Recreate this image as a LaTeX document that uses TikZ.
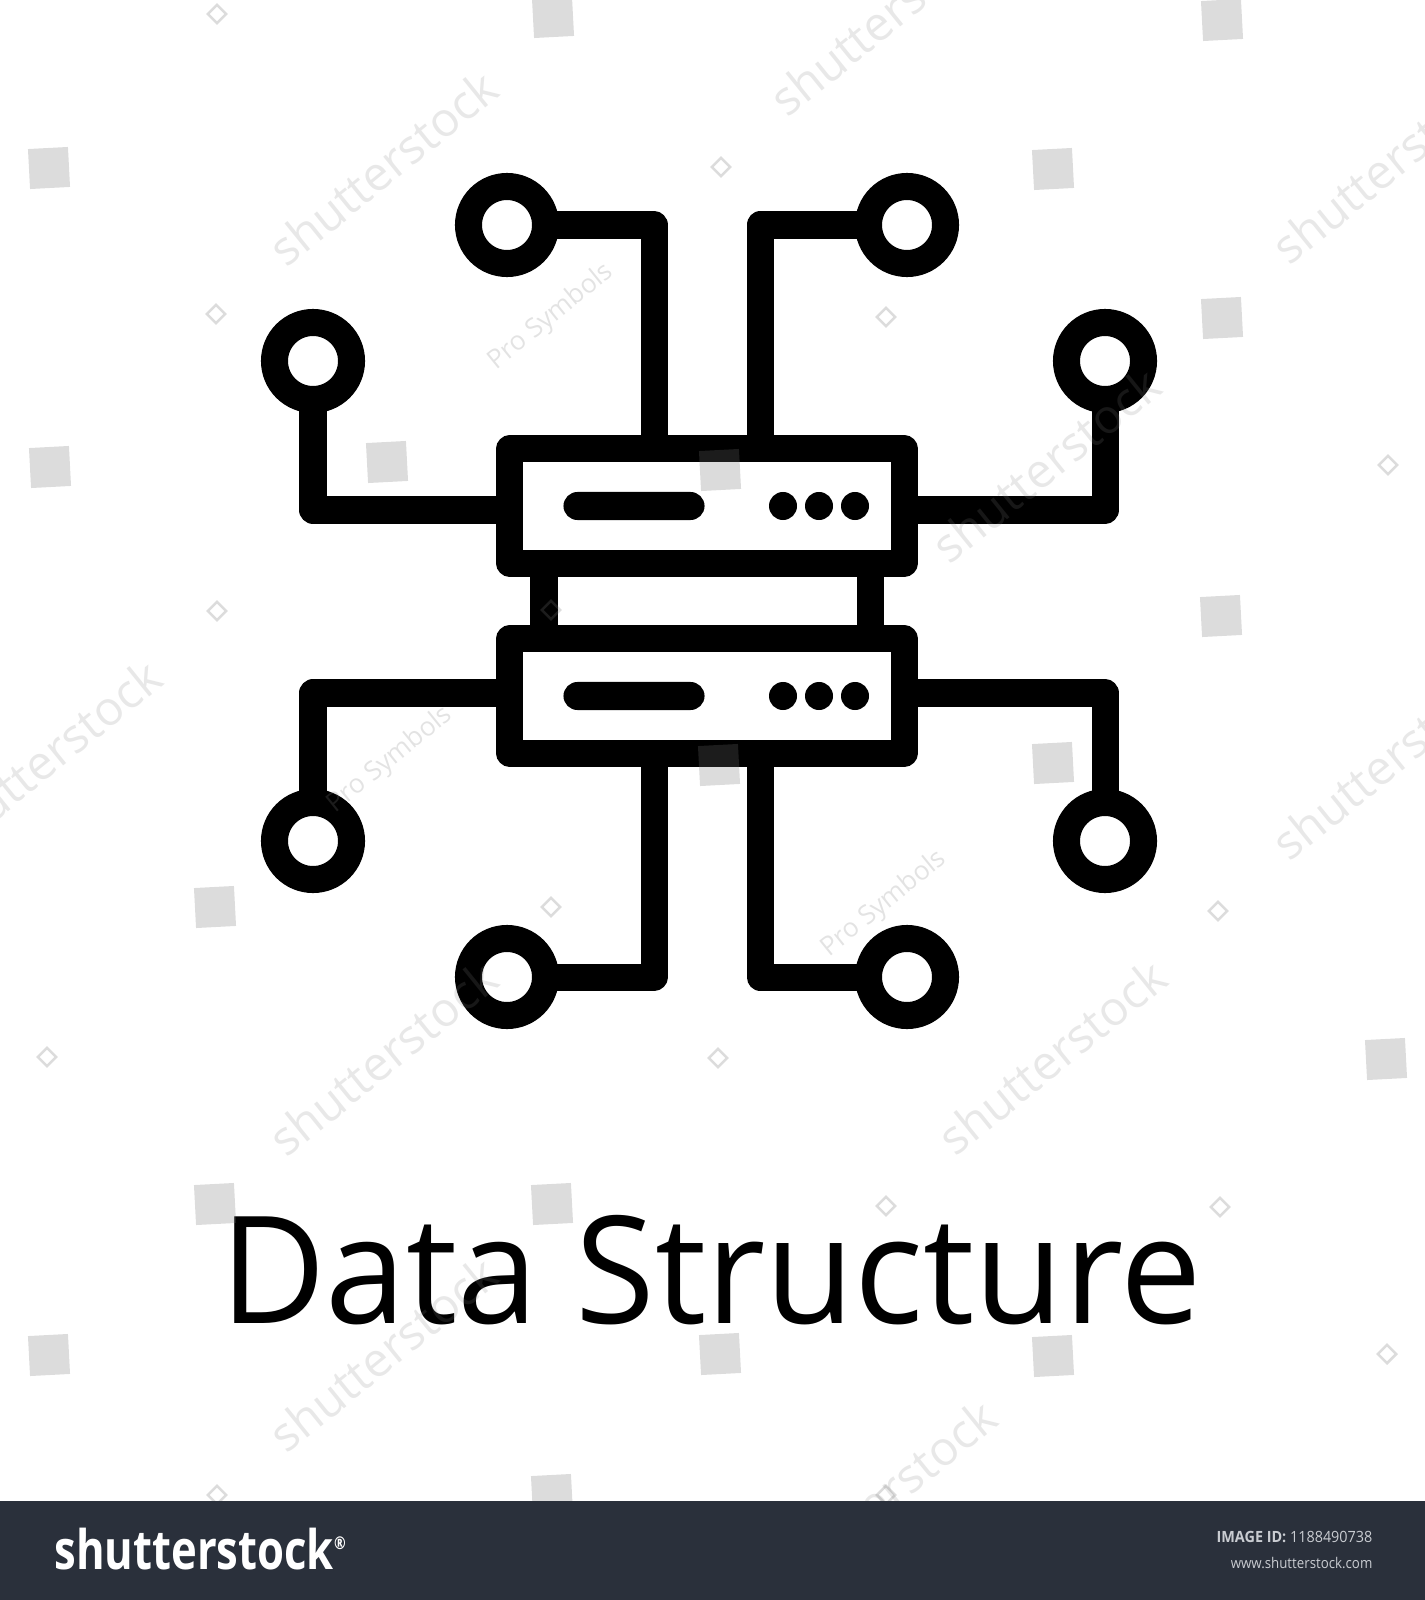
\documentclass[tikz,border=0pt]{standalone}
\usepackage{fontspec}
\setmainfont{Open Sans}
\definecolor{footbg}{HTML}{2A303B}
\definecolor{footgray}{HTML}{C9CCD1}
\tikzset{
	ring/.style={shape=circle, draw, fill=white, line width=0.27cm, minimum size=0.77cm, inner sep=0pt, outer sep=0pt},
	rack/.style={shape=rectangle, draw, fill=white, line width=0.27cm, line join=round, minimum width=3.94cm, minimum height=1.14cm, inner sep=0pt, outer sep=0pt},
	wire/.style={line width=0.27cm, line join=round},
	bar/.style={shape=rectangle, fill=black, rounded corners=0.14cm, minimum width=1.41cm, minimum height=0.28cm, inner sep=0pt},
	led/.style={shape=circle, fill=black, minimum size=0.28cm, inner sep=0pt},
	markbox/.style={shape=rectangle, fill=black!55, opacity=0.25, rotate=3, minimum size=0.4cm, inner sep=0pt},
	markswirl/.style={shape=rectangle, draw=black!55, opacity=0.25, line width=0.025cm, rotate=45, minimum size=0.13cm, inner sep=0pt},
	stocktext/.style={text=black!50, opacity=0.18, rotate=39, font=\fontsize{13.5}{13.5}\selectfont},
	protext/.style={text=black!50, opacity=0.22, rotate=39, font=\fontsize{7.5}{7.5}\selectfont}
}
\begin{document}
\begin{tikzpicture}[x=0.01cm, y=-0.01cm]
	\useasboundingbox (0, 0) rectangle (1425, 1600);
	% Taps and posts:
	\coordinate (tapa) at (654, 449);
	\coordinate (tapb) at (760, 449);
	\coordinate (tapc) at (654, 752);
	\coordinate (tapd) at (760, 752);
	\coordinate (posta) at (544, 563);
	\coordinate (postb) at (870, 563);
	\coordinate (postc) at (544, 639);
	\coordinate (postd) at (870, 639);
	\coordinate (sidea) at (510, 510);
	\coordinate (sideb) at (904, 510);
	\coordinate (sidec) at (510, 693);
	\coordinate (sided) at (904, 693);
	% Rings:
	\node[ring] (ringa) at (313, 361){};
	\node[ring] (ringb) at (507, 225){};
	\node[ring] (ringc) at (907, 225){};
	\node[ring] (ringd) at (1105, 361){};
	\node[ring] (ringe) at (313, 841){};
	\node[ring] (ringf) at (507, 977){};
	\node[ring] (ringg) at (907, 977){};
	\node[ring] (ringh) at (1105, 841){};
	% Wires:
	\draw[wire] (ringa.south) |- (sidea);
	\draw[wire] (ringb.east) -| (tapa);
	\draw[wire] (ringc.west) -| (tapb);
	\draw[wire] (ringd.south) |- (sideb);
	\draw[wire] (ringe.north) |- (sidec);
	\draw[wire] (ringf.east) -| (tapc);
	\draw[wire] (ringg.west) -| (tapd);
	\draw[wire] (ringh.north) |- (sided);
	\draw[wire] (posta) -- (postc);
	\draw[wire] (postb) -- (postd);
	% Racks:
	\node[rack] (racka) at (707, 506){};
	\node[rack] (rackb) at (707, 696){};
	\node[bar] (bara) at (634, 506){};
	\node[bar] (barb) at (634, 696){};
	\foreach \x/\n in {783/a, 819/b, 855/c}{
		\node[led] (leda\n) at (\x, 506){};
		\node[led] (ledb\n) at (\x, 696){};
	}
	% Title:
	\node[anchor=base, xscale=0.97, font=\fontsize{42.5}{42.5}\selectfont] (title) at (711, 1323){Data Structure};
	% Watermark:
	\foreach \x/\y [count=\i] in {553/17, 1222/20, 49/168, 1053/169, 1222/318, 387/462, 50/467, 720/470, 1221/616, 1053/763, 719/765, 215/907, 1386/1059, 215/1204, 552/1204, 49/1355, 720/1354, 1053/1356, 552/1495}{
		\node[markbox] (mark\i) at (\x, \y){};
	}
	\foreach \x/\y [count=\i] in {217/14, 721/167, 216/314, 886/317, 1388/465, 217/611, 551/610, 551/907, 1218/911, 47/1057, 718/1058, 886/1206, 1220/1207, 1387/1354, 217/1495, 886/1495}{
		\node[markswirl] (swirl\i) at (\x, \y){};
	}
	\foreach \x/\y [count=\i] in {383/168, 884/18, 1386/166, 1046/465, 47/757, 1386/762, 383/1058, 1052/1057, 383/1354, 882/1497}{
		\node[stocktext] (stock\i) at (\x, \y){shutterstock};
	}
	\foreach \x/\y [count=\i] in {551/317, 390/760, 884/904}{
		\node[protext] (pro\i) at (\x, \y){Pro Symbols};
	}
	% Footer:
	\fill[footbg] (0, 1501) rectangle (1425, 1600);
	\node[anchor=base west, text=white, xscale=0.8, inner sep=0pt, font=\fontsize{15.5}{15.5}\bfseries\selectfont] (logo) at (54, 1569){shutterstock{\fontsize{5}{5}\selectfont\raisebox{1.1em}{\textregistered}}};
	\node[anchor=base east, text=footgray, xscale=0.93, inner sep=0pt, font=\fontsize{4.4}{4.4}\selectfont] (imageid) at (1373, 1542){{\bfseries IMAGE ID:} 1188490738};
	\node[anchor=base east, text=footgray, xscale=0.9, inner sep=0pt, font=\fontsize{4.2}{4.2}\selectfont] (site) at (1373, 1568){www.shutterstock.com};
\end{tikzpicture}
\end{document}
